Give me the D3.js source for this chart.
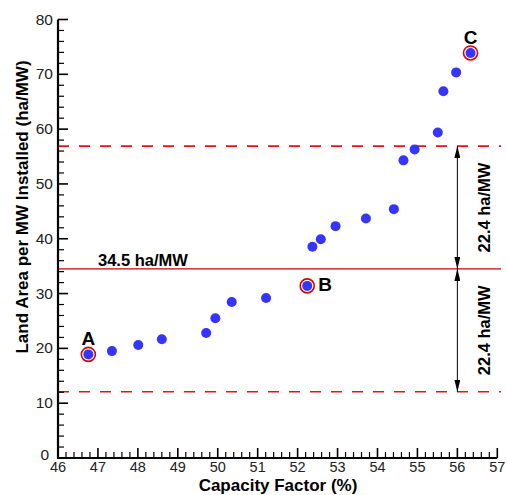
<!DOCTYPE html>
<html>
<head>
<meta charset="utf-8">
<script src="https://cdn.jsdelivr.net/npm/d3@7"></script>
<style>
  html, body { margin: 0; padding: 0; background: #fff; }
  svg { display: block; font-family: "Liberation Sans", Arial, sans-serif; }
</style>
</head>
<body>
<svg id="chart" width="507" height="495"></svg>
<script>
// ---- data ----
const capacityFactor = [46.76, 47.35, 48.01, 48.60, 49.71, 49.94, 50.35, 51.21, 52.24, 52.37, 52.58, 52.95, 53.71, 54.41, 54.65, 54.93, 55.51, 55.65, 55.97, 56.33];
const landArea       = [18.9, 19.5, 20.6, 21.65, 22.8, 25.5, 28.45, 29.2, 31.4, 38.55, 39.9, 42.3, 43.7, 45.4, 54.3, 56.3, 59.4, 66.9, 70.35, 73.9];
const highlightLabels = ["A", "B", "C"];
const highlightIndex  = [0, 8, 19];
const meanValue = 34.5;
const spread = 22.4;
const arrowX = 56;
const xTicks = [46, 47, 48, 49, 50, 51, 52, 53, 54, 55, 56, 57];
const yTicks = [0, 10, 20, 30, 40, 50, 60, 70, 80];
const xTitle = "Capacity Factor (%)";
const yTitle = "Land Area per MW Installed (ha/MW)";

const svg = d3.select("#chart");
const x = d3.scaleLinear().domain([46, 57]).range([58, 497.3]);
const y = d3.scaleLinear().domain([0, 80]).range([458, 19.5]);
const xMinor = d3.range(46, 57.001, 0.2).filter(v => Math.abs(v - Math.round(v)) > 1e-6);
const yMinor = d3.range(0, 80.001, 2).filter(v => v % 10 !== 0);

// reference lines
const lineLeft = x(46), lineRight = 501;
[meanValue + spread, meanValue - spread].forEach(v => {
  svg.append("line")
    .attr("x1", lineLeft).attr("x2", lineRight)
    .attr("y1", y(v)).attr("y2", y(v))
    .attr("stroke", "#ee1111").attr("stroke-width", 1.6)
    .attr("stroke-dasharray", "11,10");
});
svg.append("line")
  .attr("x1", lineLeft).attr("x2", lineRight)
  .attr("y1", y(meanValue)).attr("y2", y(meanValue))
  .attr("stroke", "#cc0000").attr("stroke-width", 1.4);

svg.append("text")
  .attr("x", 98).attr("y", y(meanValue) - 3)
  .attr("font-size", 16.5).attr("font-weight", "bold").attr("fill", "#000")
  .text(meanValue + " ha/MW");

// arrows
const defs = svg.append("defs");
defs.append("marker").attr("id", "ah")
  .attr("viewBox", "0 0 12 6").attr("refX", 12).attr("refY", 3)
  .attr("markerWidth", 12).attr("markerHeight", 6)
  .attr("markerUnits", "userSpaceOnUse")
  .attr("orient", "auto-start-reverse")
  .append("path").attr("d", "M0,0 L12,3 L0,6 Z").attr("fill", "#000");

[[meanValue + spread, meanValue], [meanValue, meanValue - spread]].forEach(([a, b]) => {
  svg.append("line")
    .attr("x1", x(arrowX)).attr("x2", x(arrowX))
    .attr("y1", y(a)).attr("y2", y(b))
    .attr("stroke", "#000").attr("stroke-width", 1)
    .attr("marker-start", "url(#ah)").attr("marker-end", "url(#ah)");
  const cy = (y(a) + y(b)) / 2;
  svg.append("text")
    .attr("transform", `translate(${x(arrowX) + 33},${cy}) rotate(-90)`)
    .attr("text-anchor", "middle")
    .attr("font-size", 16.5).attr("font-weight", "bold")
    .text(spread + " ha/MW");
});

// axes
const axisG = svg.append("g");
axisG.append("line").attr("x1", x(46)).attr("x2", x(46)).attr("y1", y(0) + 1).attr("y2", y(80))
  .attr("stroke", "#000").attr("stroke-width", 2.2);
axisG.append("line").attr("x1", x(46) - 1).attr("x2", x(57)).attr("y1", y(0)).attr("y2", y(0))
  .attr("stroke", "#000").attr("stroke-width", 2.2);

axisG.selectAll(".ymaj").data(yTicks).join("line")
  .attr("x1", x(46)).attr("x2", x(46) + 10).attr("y1", d => y(d)).attr("y2", d => y(d))
  .attr("stroke", "#000").attr("stroke-width", 1.6);
axisG.selectAll(".ymin").data(yMinor).join("line")
  .attr("x1", x(46)).attr("x2", x(46) + 6).attr("y1", d => y(d)).attr("y2", d => y(d))
  .attr("stroke", "#000").attr("stroke-width", 1.2);
axisG.selectAll(".xmaj").data(xTicks).join("line")
  .attr("x1", d => x(d)).attr("x2", d => x(d)).attr("y1", y(0)).attr("y2", y(0) - 10)
  .attr("stroke", "#000").attr("stroke-width", 1.6);
axisG.selectAll(".xmin").data(xMinor).join("line")
  .attr("x1", d => x(d)).attr("x2", d => x(d)).attr("y1", y(0)).attr("y2", y(0) - 6)
  .attr("stroke", "#000").attr("stroke-width", 1.2);

axisG.selectAll(".ylab").data(yTicks).join("text")
  .attr("x", d => d === 0 ? x(46) - 9 : x(46) - 5)
  .attr("y", d => d === 0 ? y(d) + 2 : y(d) + 5)
  .attr("text-anchor", "end").attr("font-size", 15.5).attr("fill", "#222")
  .text(d => d);
axisG.selectAll(".xlab").data(xTicks).join("text")
  .attr("x", d => x(d)).attr("y", y(0) + 14)
  .attr("text-anchor", "middle").attr("font-size", 14.5).attr("fill", "#222")
  .text(d => d);

svg.append("text")
  .attr("x", 278).attr("y", 491)
  .attr("text-anchor", "middle").attr("font-size", 17).attr("font-weight", "bold")
  .text(xTitle);
svg.append("text")
  .attr("transform", "translate(28,207) rotate(-90)")
  .attr("text-anchor", "middle").attr("font-size", 17).attr("font-weight", "bold")
  .text(yTitle);

// points
svg.selectAll(".ring").data(highlightIndex).join("circle")
  .attr("cx", i => x(capacityFactor[i])).attr("cy", i => y(landArea[i]))
  .attr("r", 7).attr("fill", "#fff").attr("stroke", "#dd0000").attr("stroke-width", 1.6);
svg.selectAll(".pt").data(capacityFactor).join("circle")
  .attr("cx", d => x(d)).attr("cy", (d, i) => y(landArea[i]))
  .attr("r", 5).attr("fill", "#3535ff");

// highlight labels
const labelOffsets = [[0, -9, "middle"], [11, 5, "start"], [0, -9, "middle"]];
svg.selectAll(".hl").data(highlightIndex).join("text")
  .attr("x", (i, k) => x(capacityFactor[i]) + labelOffsets[k][0])
  .attr("y", (i, k) => y(landArea[i]) + labelOffsets[k][1])
  .attr("text-anchor", (i, k) => labelOffsets[k][2])
  .attr("font-size", 19).attr("font-weight", "bold")
  .text((i, k) => highlightLabels[k]);
</script>
</body>
</html>
